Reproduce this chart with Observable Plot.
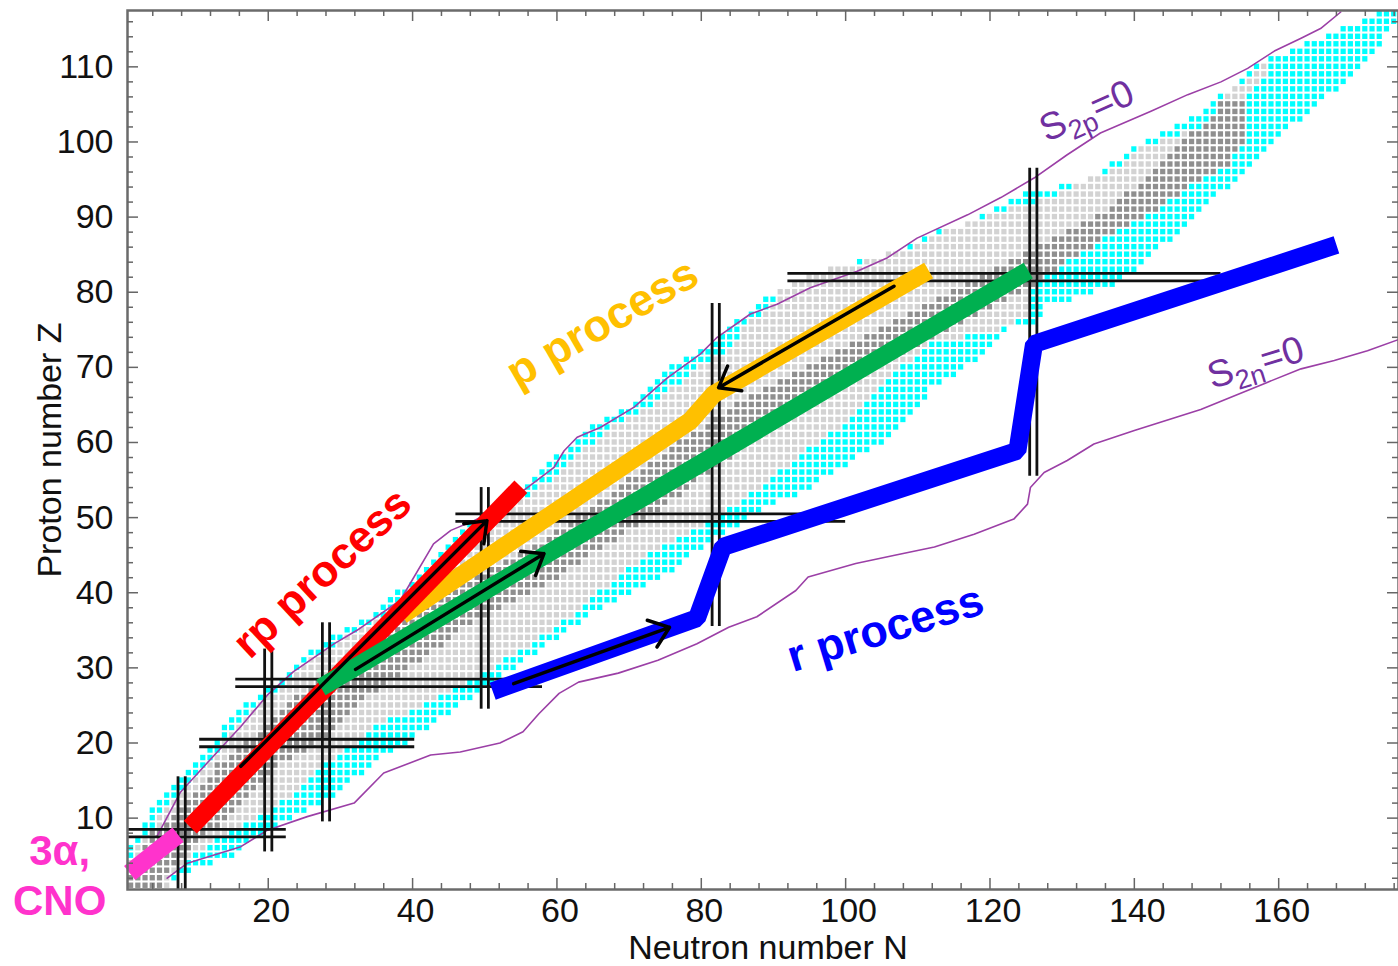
<!DOCTYPE html>
<html><head><meta charset="utf-8">
<script src="https://cdn.jsdelivr.net/npm/d3@7"></script>
<script src="https://cdn.jsdelivr.net/npm/@observablehq/plot@0.6"></script>
<style>body{margin:0;background:#fff;} #chart svg{display:block}</style>
</head><body><div id="chart"></div>
<script>
// ---------- axis ticks ----------
const xMajorTicks = [20, 40, 60, 80, 100, 120, 140, 160];
const yMajorTicks = [10, 20, 30, 40, 50, 60, 70, 80, 90, 100, 110];
const xMinorTicks = d3.range(4, 177, 4).filter(d => d % 20 !== 0);
const yMinorTicks = d3.range(2, 118, 2).filter(d => d % 10 !== 0);

// ---------- nuclide chart regions (N, Z) ----------
const knownLeft = [[0.4,0.4],[0.4,6],[2.3,8],[4,11.5],[7.8,15],[11,18.2],[12.9,20.8],[15.7,24.4],[21.2,27.9],[24.5,31],[28,33.5],[31.5,35.5],[34.6,37.2],[39.7,41.6],[43.4,45.2],[48.5,49.6],[55.9,54],[58.7,57.1],[62.3,59.8],[65.6,62.5],[70.2,65.1],[74.4,69.1],[79.9,72.2],[81.7,73.1],[84.5,75.7],[87.3,77.9],[90.5,80.2],[96,82.5],[101.6,84.1],[108.5,85.9],[112.2,88.1],[116.4,89],[120.5,91.2],[124.3,93],[134,95],[136.7,97],[140.9,99.9],[145.5,101.8],[149.2,104.1],[151.5,105.8],[154.7,107.8],[156.6,110],[164,113.1],[173.2,116.9],[173.5,117.6]];
const knownRight = [[177.5,117.6],[176.6,116],[172.8,111.6],[167.7,106.7],[160.7,101],[155.7,95.7],[150.6,92.1],[146.4,88.1],[140.9,83.3],[136.7,80.8],[128,78],[126.6,76],[123,75],[119.6,72],[112,67],[107.6,61.5],[95.3,54],[87.7,50.5],[80.5,46.1],[74,41.6],[65.2,37.2],[58.6,32.8],[52,28.4],[43,22.5],[34.2,16.9],[29.1,12.9],[17.5,7.1],[16.2,5.1],[10,3.2],[6,0.9],[6,0.4]];
const greyLeft = [[0.4,0.4],[0.4,4],[3.5,8],[6,11.5],[9.5,15],[12.5,18.2],[14.5,20.8],[17.5,24.4],[22.5,27.9],[26,31],[30,33.5],[33.5,35.5],[36.5,37.2],[41.5,41.6],[45.5,45.2],[50.5,49.6],[58,54],[61.5,57.1],[65,59.8],[68.5,62.5],[73.5,65.1],[78.5,69.1],[83.5,72.2],[86.5,75.7],[89.5,77.9],[91,80.2],[95,82.5],[102.5,84.1],[109.5,85.9],[113.5,88.1],[118.5,89.5],[124.5,91.5],[129.5,93],[134,95],[138.8,97.2],[141,99],[144,100],[149,101.8],[151.5,104],[151.7,105.8],[155.4,108],[157.3,110.3]];
const greyRight = [[158.8,110.3],[157.6,108],[155,105.8],[155.2,104],[155,101.8],[155.8,100],[154,98.9],[153.6,97.2],[151.2,95.6],[148.2,94.5],[145.7,92.5],[141.1,89.7],[136.9,87.8],[131,84],[126.1,81.2],[125.5,77],[121.5,75],[112,73],[108,70],[103.5,66],[99.5,62],[93.5,58],[88.2,54],[83.2,50.5],[74.5,46.1],[67.9,41.6],[62.4,37.2],[55.8,32.8],[48.7,28.4],[42,25],[36.5,23.1],[27.8,16.9],[23.6,12.9],[13,7.1],[6.5,2.6],[6.5,0.4]];
const coreLeft = [[0.5,2],[4,8],[9,12],[13,17],[17,20],[24,26],[30,30],[37,35],[45,40],[55,45],[63,50],[70,55],[77,60],[85,65],[95,70],[105,75],[115,80],[125,85],[135,90],[143,96],[148,101],[152,106]];
const coreRight = [[157,106],[156,100],[152,93],[145,90],[135,85],[125,80],[115,75],[105,70],[95,65],[87,60],[80,55],[73,50],[65,45],[57,40],[47,35],[40,30],[34,26],[27,20],[22,17],[17,12],[12,8],[6,2],[6,0.5],[0.5,0.5]];

// ---------- drip lines ----------
const s2pN = [4.6,7.8,11.5,16.2,19.9,23.5,29.1,32.3,38.3,42.9,45.3,48.5,52.2,55.9,59.6,61.0,62.8,66.0,70.7,75.3,79.9,82.2,86.8,90.5,95.1,101.6,105.8,109.9,116.9,121.5,126.1,130.7,135.3,142.3,147.4,152.0,155.7,159.4,163.1,165.8,168.6];
const s2pZ = [7.6,13.4,17.3,22.2,26.4,29.5,33.2,35.0,39.0,46.5,48.3,49.6,51.4,54.0,56.7,58.9,60.7,62.0,64.7,68.6,71.8,74.0,77.1,78.4,80.6,82.8,84.6,87.2,90.3,92.6,95.2,98.3,101.2,104.1,106.3,108.0,109.8,112.1,113.8,115.1,117.3];
const s2nN = [6.0,8.8,16.2,19.9,25.4,31.9,36.0,42.5,46.6,52.1,55.3,57.5,60.3,63.0,68.5,74.0,79.4,83.8,87.7,93.1,94.8,101.4,106.8,112.3,117.8,123.3,125.2,125.6,127.5,130.7,134.4,140.0,149.2,158.4,163.1,167.7,172.3,176.6];
const s2nZ = [2.0,4.0,6.2,8.4,10.2,12.0,16.0,18.4,18.8,20.0,21.5,23.9,26.6,28.1,29.3,31.0,33.2,35.4,36.8,40.3,42.1,43.9,45.0,46.1,47.8,49.8,51.8,54.0,56.0,57.6,59.8,61.6,64.4,68.0,69.8,70.9,72.2,73.7];

// ---------- magic numbers (double lines) ----------
const magicN = [8, 20, 28, 50, 82, 126];
const magicNZlo = [0.5, 5.5, 9.5, 24.5, 35.5, 55.5];
const magicNZhi = [15.5, 32.5, 36, 54, 78.5, 96.5];
const magicZ = [8, 20, 28, 50, 82];
const magicZNlo = [0.5, 10.5, 15.5, 46, 92];
const magicZNhi = [22.5, 40.3, 58, 100, 152];

// ---------- process paths ----------
const cnoN = [0.8, 7.5], cnoZ = [2.7, 7.8];
const rpN = [9.2, 55.0], rpZ = [8.8, 54.1];
const pN = [38.5, 78.5, 81.7, 111.5], pZ = [37, 62.9, 66.4, 82.9];
const gN = [27.3, 125.3], gZ = [27.4, 82.9];
const rN = [51.1, 79.4, 83.0, 123.8, 126.1, 168.0], rZ = [26.9, 36.6, 46.1, 58.9, 73.1, 86.3];

// arrows: start N, start Z, end N, end Z
const arrowN1 = [16.2, 32.1, 106.7, 54.0];
const arrowZ1 = [16.9, 29.8, 80.8, 27.9];
const arrowN2 = [50.3, 58.2, 82.4, 75.6];
const arrowZ2 = [49.6, 45.2, 67.3, 35.4];

// ---------- build cells ----------
const knownPoly = knownLeft.concat(knownRight);
const greyPoly = greyLeft.concat(greyRight);
const corePoly = coreLeft.concat(coreRight);
const cyanCells = [], lightCells = [], coreCells = [];
for (let z = 1; z <= 117; z++) {
  for (let n = 0; n <= 177; n++) {
    const p = [n, z];
    if (!d3.polygonContains(knownPoly, p)) continue;
    if (d3.polygonContains(greyPoly, p)) {
      if (d3.polygonContains(corePoly, p)) coreCells.push(p); else lightCells.push(p);
    } else cyanCells.push(p);
  }
}
const cellOpts = (fill) => ({x1: d => d[0] - 0.36, x2: d => d[0] + 0.36, y1: d => d[1] - 0.36, y2: d => d[1] + 0.36, fill, clip: true});

const vLines = [], hLines = [];
magicN.forEach((n, i) => { for (const o of [-0.5, 0.5]) vLines.push({x: n + o, y1: magicNZlo[i], y2: magicNZhi[i]}); });
magicZ.forEach((z, i) => { for (const o of [-0.5, 0.5]) hLines.push({y: z + o, x1: magicZNlo[i], x2: magicZNhi[i]}); });

const W = 1398, H = 966, mT = 10, mB = 77, mL = 127, mR = 0;
const plotW = W - mL - mR, plotH = H - mT - mB;
const FONT = "Liberation Sans, Arial, Helvetica, sans-serif";
const tickColor = "#666";

const label = (txt, n, z, rot, color, size, weight) =>
  Plot.text([txt], {x: () => n, y: () => z, text: d => d, rotate: rot, fill: color, fontSize: size, fontWeight: weight, fontFamily: FONT, textAnchor: "middle", lineAnchor: "middle"});

const chart = Plot.plot({
  width: W, height: H,
  marginTop: mT, marginBottom: mB, marginLeft: mL, marginRight: mR,
  x: {domain: [0.5, 176.6]},
  y: {domain: [0.5, 117.5]},
  style: {fontFamily: FONT, fontSize: "34px", color: "#111", background: "#fff", overflow: "visible"},
  marks: [
    Plot.rect(cyanCells, cellOpts("#00ffff")),
    Plot.rect(lightCells, cellOpts("#d3d3d3")),
    Plot.rect(coreCells, cellOpts("#8f8f8f")),
    Plot.line(s2pN, {x: s2pN, y: s2pZ, stroke: "#9b3fa6", strokeWidth: 1.6, clip: true}),
    Plot.line(s2nN, {x: s2nN, y: s2nZ, stroke: "#9b3fa6", strokeWidth: 1.6, clip: true}),
    Plot.ruleX(vLines, {x: "x", y1: "y1", y2: "y2", stroke: "#111", strokeWidth: 2.8}),
    Plot.ruleY(hLines, {y: "y", x1: "x1", x2: "x2", stroke: "#111", strokeWidth: 2.8}),
    Plot.line(pN, {x: pN, y: pZ, stroke: "#ffc000", strokeWidth: 18, strokeLinecap: "butt", strokeLinejoin: "miter"}),
    Plot.line(rpN, {x: rpN, y: rpZ, stroke: "#ff0000", strokeWidth: 18, strokeLinecap: "butt"}),
    Plot.line(gN, {x: gN, y: gZ, stroke: "#00b050", strokeWidth: 18, strokeLinecap: "butt"}),
    Plot.line(rN, {x: rN, y: rZ, stroke: "#0000ff", strokeWidth: 18, strokeLinecap: "butt", strokeLinejoin: "miter"}),
    Plot.line(cnoN, {x: cnoN, y: cnoZ, stroke: "#ff33cc", strokeWidth: 18, strokeLinecap: "butt"}),
    Plot.arrow(arrowN1, {x1: arrowN1, y1: arrowZ1, x2: arrowN2, y2: arrowZ2, stroke: "#000", strokeWidth: 3.5, headLength: 10, headAngle: 75}),
    // frame & ticks
    Plot.frame({stroke: "#6b6b6b", strokeWidth: 2.5}),
    Plot.tickX(xMajorTicks, {x: d => d, insetTop: plotH - 11, stroke: tickColor, strokeWidth: 1.5}),
    Plot.tickX(xMinorTicks, {x: d => d, insetTop: plotH - 6, stroke: tickColor, strokeWidth: 1.5}),
    Plot.tickX(xMajorTicks, {x: d => d, insetBottom: plotH - 11, stroke: tickColor, strokeWidth: 1.5}),
    Plot.tickX(xMinorTicks, {x: d => d, insetBottom: plotH - 6, stroke: tickColor, strokeWidth: 1.5}),
    Plot.tickY(yMajorTicks, {y: d => d, insetRight: plotW - 11, stroke: tickColor, strokeWidth: 1.5}),
    Plot.tickY(yMinorTicks, {y: d => d, insetRight: plotW - 6, stroke: tickColor, strokeWidth: 1.5}),
    Plot.tickY(yMajorTicks, {y: d => d, insetLeft: plotW - 11, stroke: tickColor, strokeWidth: 1.5}),
    Plot.tickY(yMinorTicks, {y: d => d, insetLeft: plotW - 6, stroke: tickColor, strokeWidth: 1.5}),
    Plot.axisX({ticks: xMajorTicks, tickSize: 0, tickPadding: 8, label: null, dx: 3}),
    Plot.axisY({ticks: yMajorTicks, tickSize: 0, tickPadding: 14, label: null}),
    Plot.text(["Neutron number N"], {frameAnchor: "bottom", dy: 59, dx: 5, text: d => d, fontSize: 34, fontFamily: FONT, fill: "#111", textAnchor: "middle", lineAnchor: "middle"}),
    Plot.text(["Proton number Z"], {frameAnchor: "left", dx: -77, rotate: -90, text: d => d, fontSize: 34, fontFamily: FONT, fill: "#111", textAnchor: "middle", lineAnchor: "middle"}),
    // annotations
    label("rp process", 27.5, 42.6, -43, "#ff0000", 44, "bold"),
    label("p process", 66.3, 75.9, -30, "#ffc000", 45, "bold"),
    label("r process", 105.5, 35.2, -17, "#0000ff", 45, "bold"),
    label("S2p=0", 133.4, 104.1, -24, "#7030a0", 38, "normal"),
    label("S2n=0", 156.8, 70.6, -17, "#7030a0", 38, "normal"),
    label("3α,", -8.9, 5.5, 0, "#ff33cc", 42, "bold"),
    label("CNO", -8.9, -1.1, 0, "#ff33cc", 42, "bold")
  ]
});

// subscripts for S2p / S2n
const NS = "http://www.w3.org/2000/svg";
chart.querySelectorAll("text").forEach(t => {
  const s = t.textContent;
  if (s === "S2p=0" || s === "S2n=0") {
    t.textContent = "";
    const a = document.createElementNS(NS, "tspan"); a.textContent = "S";
    const b = document.createElementNS(NS, "tspan"); b.textContent = s.slice(1, 3);
    b.setAttribute("font-size", "27"); b.setAttribute("dy", "9");
    const c = document.createElementNS(NS, "tspan"); c.textContent = "=0";
    c.setAttribute("font-size", "38"); c.setAttribute("dy", "-9");
    t.append(a, b, c);
  }
});
document.getElementById("chart").append(chart);
</script>
</body></html>
